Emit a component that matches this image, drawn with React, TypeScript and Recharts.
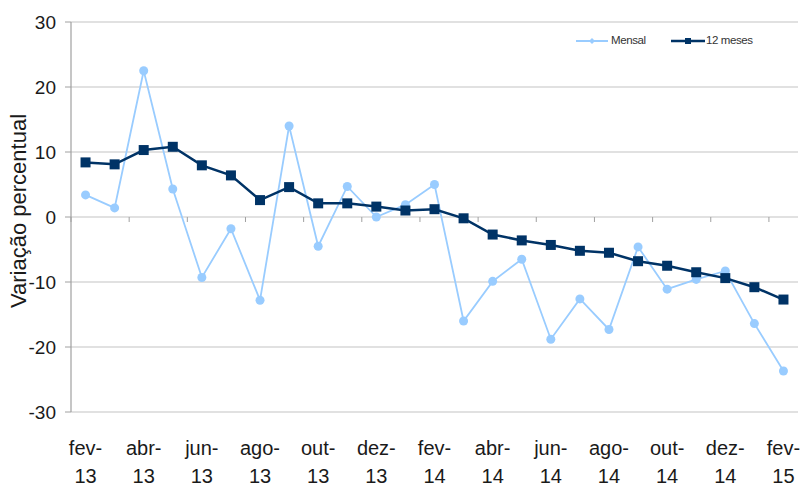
import React from 'react';
import { LineChart, Line, XAxis, YAxis, CartesianGrid, Label } from 'recharts';

const months = [
  'fev-13', 'mar-13', 'abr-13', 'mai-13', 'jun-13', 'jul-13', 'ago-13', 'set-13', 'out-13', 'nov-13', 'dez-13', 'jan-14',
  'fev-14', 'mar-14', 'abr-14', 'mai-14', 'jun-14', 'jul-14', 'ago-14', 'set-14', 'out-14', 'nov-14', 'dez-14', 'jan-15',
  'fev-15',
];
const mensal = [
  3.4, 1.4, 22.5, 4.3, -9.3, -1.8, -12.8, 14.0, -4.5, 4.7, 0.0, 1.9,
  5.0, -16.0, -9.9, -6.5, -18.8, -12.6, -17.3, -4.6, -11.1, -9.6, -8.3, -16.4,
  -23.7,
];
const dozeMeses = [
  8.4, 8.1, 10.3, 10.8, 7.95, 6.4, 2.6, 4.6, 2.1, 2.1, 1.6, 1.0,
  1.2, -0.2, -2.7, -3.6, -4.3, -5.2, -5.5, -6.8, -7.5, -8.5, -9.4, -10.8,
  -12.7,
];
const yTicks = [-30, -20, -10, 0, 10, 20, 30];
const seriesNames = { mensal: 'Mensal', doze: '12 meses' };
const yTitle = 'Variação percentual';

const data = months.map((m, i) => ({ month: m, mensal: mensal[i], doze: dozeMeses[i] }));

const W = 803;
const H = 486;
const X_AXIS_H = 74;
const MARGIN = { top: 22, right: 5, bottom: 0, left: 0 };
const Y_AXIS_W = 71;
const PLOT_W = W - MARGIN.left - MARGIN.right - Y_AXIS_W;
const PLOT_H = H - MARGIN.top - MARGIN.bottom - X_AXIS_H;
const BAND_HALF = PLOT_W / (months.length * 2);
const Y_MIN = -30;
const Y_MAX = 30;
const ZERO_Y = MARGIN.top + (PLOT_H * (Y_MAX - 0)) / (Y_MAX - Y_MIN);

const LIGHT = '#99ccff';
const DARK = '#003366';
const GRID = '#c4c4c4';
const AXIS = '#a0a0a0';
const FONT = '"Liberation Sans", Arial, sans-serif';

const XTick = (props: any) => {
  const { x, y, payload } = props;
  const v: string = String(payload.value);
  const idx = v.indexOf('-');
  const a = v.slice(0, idx + 1);
  const b = v.slice(idx + 1);
  return (
    <g>
      <line x1={x - BAND_HALF} x2={x - BAND_HALF} y1={ZERO_Y} y2={ZERO_Y + 5} stroke={AXIS} strokeWidth={1} />
      <text x={x} y={y + 43} textAnchor="middle" fontSize={20} fontFamily={FONT} fill="#1a1a1a">{a}</text>
      <text x={x} y={y + 71} textAnchor="middle" fontSize={20} fontFamily={FONT} fill="#1a1a1a">{b}</text>
    </g>
  );
};

const SquareDot = (props: any) => {
  const { cx, cy } = props;
  if (cx == null || cy == null) return null;
  return <rect x={cx - 5} y={cy - 5} width={10} height={10} fill={DARK} stroke="none" />;
};

const RoundDot = (props: any) => {
  const { cx, cy } = props;
  if (cx == null || cy == null) return null;
  return <circle cx={cx} cy={cy} r={4.5} fill={LIGHT} stroke="none" />;
};

const LegendBox = () => (
  <div style={{ position: 'absolute', left: 576, top: 34, width: 200, height: 14, fontFamily: FONT, fontSize: 11.5, color: '#333', whiteSpace: 'nowrap' }}>
    <svg width={32} height={10} style={{ position: 'absolute', left: 0, top: 2 }}>
      <line x1={0} x2={32} y1={5} y2={5} stroke={LIGHT} strokeWidth={2} />
      <polygon points="16,2 19,5 16,8 13,5" fill={LIGHT} />
    </svg>
    <span style={{ position: 'absolute', left: 35, top: 0, letterSpacing: -0.4 }}>{seriesNames.mensal}</span>
    <svg width={34} height={10} style={{ position: 'absolute', left: 95, top: 2 }}>
      <line x1={0} x2={34} y1={5} y2={5} stroke={DARK} strokeWidth={2.5} />
      <rect x={14} y={2} width={6} height={6} fill={DARK} />
    </svg>
    <span style={{ position: 'absolute', left: 130, top: 0, letterSpacing: -0.4 }}>{seriesNames.doze}</span>
  </div>
);

const YLabel = () => {
  const cx = 26;
  const cy = ZERO_Y - 6;
  return (
    <text
      x={cx}
      y={cy}
      transform={`rotate(-90, ${cx}, ${cy})`}
      textAnchor="middle"
      fontSize={22}
      fontFamily={FONT}
      fill="#1a1a1a"
    >
      {yTitle}
    </text>
  );
};

export default function App() {
  return (
    <div style={{ width: W, height: H, position: 'relative' }}>
      <style>{'html,body{margin:0;padding:0;overflow:hidden;}'}</style>
      <LineChart width={W} height={H} data={data} margin={MARGIN}>
        <CartesianGrid vertical={false} stroke={GRID} strokeWidth={1.2} />
        <XAxis
          dataKey="month"
          interval={1}
          tick={<XTick />}
          tickLine={false}
          axisLine={false}
          tickSize={0}
          tickMargin={0}
          height={X_AXIS_H}
          padding={{ left: BAND_HALF, right: BAND_HALF }}
        />
        <YAxis
          domain={[Y_MIN, Y_MAX]}
          ticks={yTicks}
          width={Y_AXIS_W}
          tickSize={6}
          tickMargin={9}
          axisLine={{ stroke: AXIS, strokeWidth: 1.2 }}
          tickLine={{ stroke: AXIS }}
          tick={{ fontSize: 19, fontFamily: FONT, fill: '#1a1a1a' }}
          allowDataOverflow
        >
          <Label content={<YLabel />} />
        </YAxis>
        <Line
          type="linear"
          dataKey="mensal"
          name={seriesNames.mensal}
          stroke={LIGHT}
          strokeWidth={1.8}
          dot={<RoundDot />}
          activeDot={false}
          isAnimationActive={false}
        />
        <Line
          type="linear"
          dataKey="doze"
          name={seriesNames.doze}
          stroke={DARK}
          strokeWidth={2.5}
          dot={<SquareDot />}
          activeDot={false}
          isAnimationActive={false}
        />
      </LineChart>
      <LegendBox />
    </div>
  );
}
